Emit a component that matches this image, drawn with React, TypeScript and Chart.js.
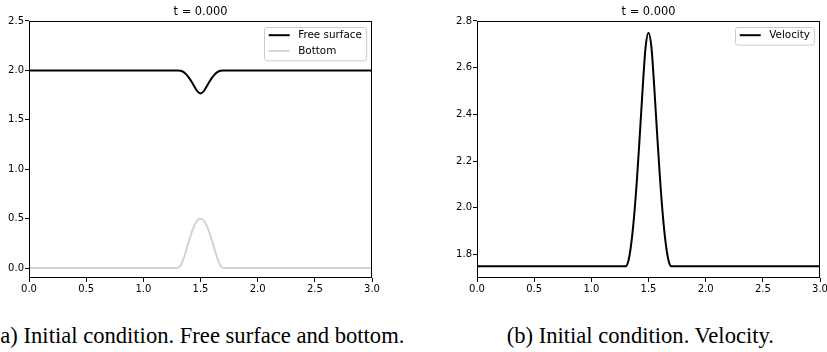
import React, { useEffect, useRef } from "react";
import { Chart, registerables } from "chart.js";

Chart.register(...registerables);

// ---- data ----
const xPositions = [0, 1.3, 1.325, 1.35, 1.375, 1.4, 1.425, 1.45, 1.475, 1.5, 1.525, 1.55, 1.575, 1.6, 1.625, 1.65, 1.675, 1.7, 3.0];
const freeSurface = [2.0, 2.0, 1.997, 1.985, 1.96, 1.925, 1.88, 1.83, 1.785, 1.767, 1.785, 1.83, 1.88, 1.925, 1.96, 1.985, 1.997, 2.0, 2.0];
const bottom = [0, 0, 0.025, 0.09, 0.18, 0.28, 0.37, 0.44, 0.485, 0.5, 0.485, 0.44, 0.37, 0.28, 0.18, 0.09, 0.025, 0, 0];
const velocity = [1.75, 1.75, 1.775, 1.85, 1.97, 2.13, 2.32, 2.52, 2.69, 2.75, 2.69, 2.52, 2.32, 2.13, 1.97, 1.85, 1.775, 1.75, 1.75];

const xTicks = [0, 0.5, 1.0, 1.5, 2.0, 2.5, 3.0];
const yTicksLeft = [0, 0.5, 1.0, 1.5, 2.0, 2.5];
const yTicksRight = [1.8, 2.0, 2.2, 2.4, 2.6, 2.8];

const titleText = "t = 0.000";
const captionA = "(a) Initial condition. Free surface and bottom.";
const captionB = "(b) Initial condition. Velocity.";

const SANS = "'DejaVu Sans', sans-serif";

const toPoints = (ys: number[]) => xPositions.map((x, i) => ({ x, y: ys[i] }));

const framePlugin = {
  id: "frame",
  afterDatasetsDraw(chart: any) {
    const { ctx, chartArea: a } = chart;
    ctx.save();
    ctx.strokeStyle = "#000";
    ctx.lineWidth = 1;
    ctx.strokeRect(a.left + 0.5, a.top + 0.5, a.right - a.left - 1, a.bottom - a.top - 1);
    ctx.restore();
  },
};

const boxLegendPlugin = {
  id: "boxLegend",
  afterDraw(chart: any) {
    const { ctx, chartArea: a } = chart;
    const ds = chart.data.datasets;
    ctx.save();
    ctx.font = `10.4px ${SANS}`;
    const tw = Math.max(...ds.map((d: any) => ctx.measureText(d.label).width));
    const w = tw + 38.4;
    const h = 17.6 + 15.7 * (ds.length - 1);
    const x0 = Math.round(a.right - 5.5 - w) + 0.5;
    const y0 = Math.round(a.top + 5.7) + 0.5;
    ctx.beginPath();
    ctx.roundRect(x0, y0, w, h, 2.5);
    ctx.fillStyle = "rgba(255,255,255,0.8)";
    ctx.fill();
    ctx.strokeStyle = "#cccccc";
    ctx.lineWidth = 1;
    ctx.stroke();
    ds.forEach((d: any, i: number) => {
      const cy = y0 + 7.7 + i * 15.7;
      ctx.beginPath();
      ctx.moveTo(x0 + 4.2, cy);
      ctx.lineTo(x0 + 25.2, cy);
      ctx.strokeStyle = d.borderColor;
      ctx.lineWidth = 2;
      ctx.stroke();
      ctx.fillStyle = "#000";
      ctx.textBaseline = "middle";
      ctx.textAlign = "left";
      ctx.fillText(d.label, x0 + 33.7, cy);
    });
    ctx.restore();
  },
};

function makeConfig(
  datasets: any[],
  yMin: number,
  yMax: number,
  yTicks: number[],
  yAxisWidth: number,
  padRight: number
): any {
  return {
    type: "line",
    data: { datasets },
    plugins: [framePlugin, boxLegendPlugin],
    options: {
      animation: false,
      responsive: false,
      devicePixelRatio: 1,
      events: [],
      layout: { padding: { left: 0, right: padRight, top: 0, bottom: 0 } },
      elements: { point: { radius: 0 } },
      plugins: {
        legend: { display: false },
        tooltip: { enabled: false },
        title: {
          display: true,
          text: titleText,
          fullSize: false,
          color: "#000",
          font: { family: SANS, size: 11.4, weight: "normal" },
          padding: { top: 4.8, bottom: 2.5 },
        },
      },
      scales: {
        x: {
          type: "linear",
          min: 0,
          max: 3,
          afterBuildTicks: (s: any) => {
            s.ticks = xTicks.map((v) => ({ value: v }));
          },
          afterFit: (s: any) => {
            s.height = 22;
            s.paddingRight = 0;
          },
          ticks: {
            color: "#000",
            font: { family: SANS, size: 10 },
            padding: 1,
            maxRotation: 0,
            autoSkip: false,
            callback: (v: any) => Number(v).toFixed(1),
          },
          grid: { drawOnChartArea: false, drawTicks: true, tickLength: 4, color: "#000", tickWidth: 1 },
          border: { display: false },
        },
        y: {
          type: "linear",
          min: yMin,
          max: yMax,
          afterBuildTicks: (s: any) => {
            s.ticks = yTicks.map((v) => ({ value: v }));
          },
          afterFit: (s: any) => {
            s.width = yAxisWidth;
          },
          ticks: {
            color: "#000",
            font: { family: SANS, size: 10 },
            padding: 1,
            autoSkip: false,
            callback: (v: any) => Number(v).toFixed(1),
          },
          grid: { drawOnChartArea: false, drawTicks: true, tickLength: 4, color: "#000", tickWidth: 1 },
          border: { display: false },
        },
      },
    },
  };
}

const lineStyle = {
  borderWidth: 2,
  pointRadius: 0,
  fill: false,
  cubicInterpolationMode: "monotone",
  tension: 0.4,
};

export default function App() {
  const leftRef = useRef<HTMLCanvasElement>(null);
  const rightRef = useRef<HTMLCanvasElement>(null);

  useEffect(() => {
    const left = new Chart(
      leftRef.current!,
      makeConfig(
        [
          { label: "Free surface", data: toPoints(freeSurface), borderColor: "#000000", ...lineStyle },
          { label: "Bottom", data: toPoints(bottom), borderColor: "#d3d3d3", ...lineStyle },
        ],
        -0.1,
        2.5,
        yTicksLeft,
        29,
        41
      )
    );
    const right = new Chart(
      rightRef.current!,
      makeConfig(
        [{ label: "Velocity", data: toPoints(velocity), borderColor: "#000000", ...lineStyle }],
        1.7,
        2.8,
        yTicksRight,
        64,
        7
      )
    );
    return () => {
      left.destroy();
      right.destroy();
    };
  }, []);

  const captionStyle: React.CSSProperties = {
    position: "absolute",
    top: 324.5,
    fontFamily: "'Liberation Serif', 'DejaVu Serif', serif",
    fontSize: 22.6,
    lineHeight: "22px",
    color: "#000",
    whiteSpace: "nowrap",
  };

  return (
    <div
      style={{
        position: "fixed",
        left: 0,
        top: 0,
        width: 827,
        height: 352,
        overflow: "hidden",
        background: "#fff",
      }}
    >
      <canvas
        ref={leftRef}
        width={413}
        height={300}
        style={{ position: "absolute", left: 0, top: 0, width: 413, height: 300 }}
      />
      <canvas
        ref={rightRef}
        width={414}
        height={300}
        style={{ position: "absolute", left: 413, top: 0, width: 414, height: 300 }}
      />
      <div style={{ ...captionStyle, left: -7.2 }}>{captionA}</div>
      <div style={{ ...captionStyle, left: 506.7 }}>{captionB}</div>
    </div>
  );
}
